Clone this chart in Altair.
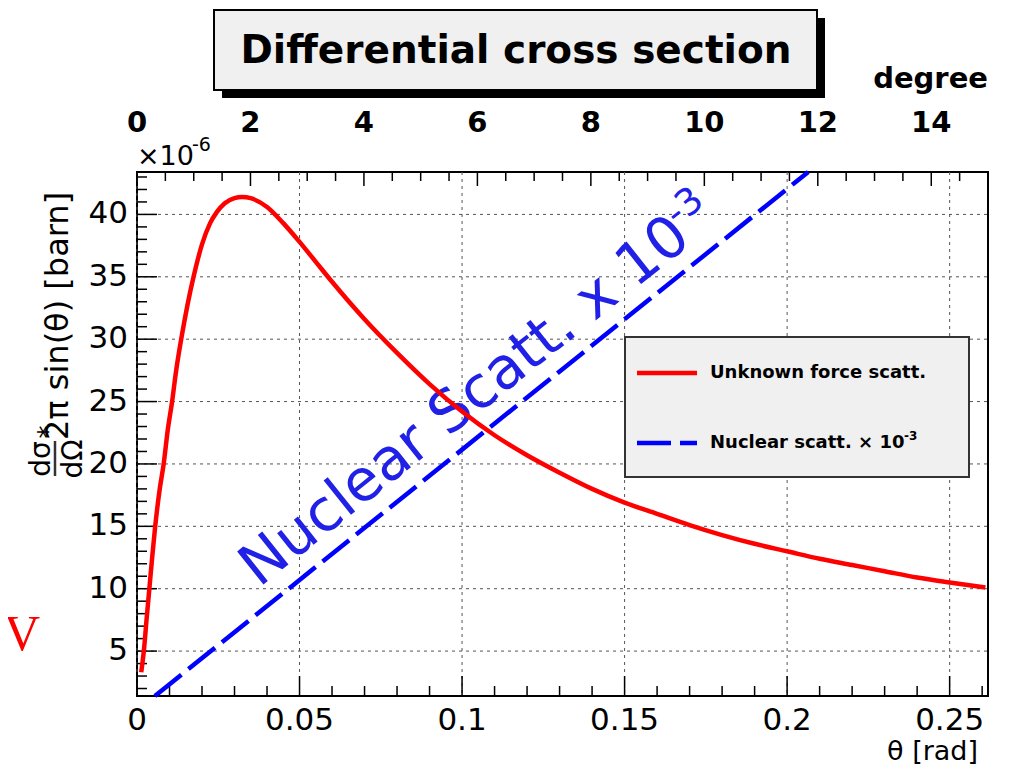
import math
import altair as alt
import pandas as pd

# ---- data ----
theta_rad = [0.0013, 0.0021, 0.0030, 0.0038, 0.0047, 0.0056, 0.0070, 0.0082, 0.0095, 0.0108,
             0.0120, 0.0136, 0.0155, 0.0174, 0.0200, 0.0225, 0.0246, 0.0270, 0.0300, 0.0323,
             0.0350, 0.0400, 0.0450, 0.0500, 0.0550, 0.0600, 0.0700, 0.0800, 0.0900, 0.1000,
             0.1100, 0.1200, 0.1300, 0.1400, 0.1500, 0.1600, 0.1700, 0.1800, 0.1900, 0.2000,
             0.2100, 0.2200, 0.2300, 0.2400, 0.2500, 0.2610]
unknown_force = [3.3, 5.0, 7.7, 10.0, 12.6, 15.0, 18.0, 20.0, 22.8, 25.0,
                 27.4, 30.0, 32.7, 35.0, 37.6, 39.3, 40.2, 40.9, 41.3, 41.4,
                 41.3, 40.6, 39.3, 37.8, 36.2, 34.6, 31.6, 28.9, 26.4, 24.2,
                 22.3, 20.7, 19.3, 18.0, 16.9, 16.0, 15.1, 14.3, 13.6, 13.0,
                 12.4, 11.9, 11.4, 10.9, 10.5, 10.1]
nuclear_theta = [0.0055, 0.2065]
nuclear_scaled = [1.4, 43.4]

x_major = [0, 0.05, 0.1, 0.15, 0.2, 0.25]
x_labels = ["0", "0.05", "0.1", "0.15", "0.2", "0.25"]
x_minor = [0.01, 0.02, 0.03, 0.04, 0.06, 0.07, 0.08, 0.09, 0.11, 0.12, 0.13, 0.14,
           0.16, 0.17, 0.18, 0.19, 0.21, 0.22, 0.23, 0.24, 0.26]
y_major = [5, 10, 15, 20, 25, 30, 35, 40]
y_labels = ["5", "10", "15", "20", "25", "30", "35", "40"]
y_minor = [2, 3, 4, 6, 7, 8, 9, 11, 12, 13, 14, 16, 17, 18, 19, 21, 22, 23, 24,
           26, 27, 28, 29, 31, 32, 33, 34, 36, 37, 38, 39, 41, 42, 43]
deg_major = [0, 2, 4, 6, 8, 10, 12, 14]
deg_minor = [0.5, 1, 1.5, 2.5, 3, 3.5, 4.5, 5, 5.5, 6.5, 7, 7.5, 8.5, 9, 9.5,
             10.5, 11, 11.5, 12.5, 13, 13.5, 14.5]

FONT = "DejaVu Sans"
W, H = 851, 524
X = alt.Scale(domain=[0, 0.2618], nice=False, zero=False)
Y = alt.Scale(domain=[1.4, 43.4], nice=False, zero=False)

curve = pd.DataFrame({"theta": theta_rad, "val": unknown_force})
nuc = pd.DataFrame({"theta": nuclear_theta, "val": nuclear_scaled})
one = pd.DataFrame({"k": [0]})
xmaj = pd.DataFrame({"v": x_major, "lab": x_labels})
xmin = pd.DataFrame({"v": x_minor})
ymaj = pd.DataFrame({"v": y_major, "lab": y_labels})
ymin = pd.DataFrame({"v": y_minor})
# degree axis positions expressed on the radian scale
degmaj = pd.DataFrame({"rad": [d * math.pi / 180 for d in deg_major],
                       "lab": [str(d) for d in deg_major]})
degmin = pd.DataFrame({"rad": [d * math.pi / 180 for d in deg_minor]})


def xrule(df, y1, y2, **kw):
    props = dict(color="black", strokeWidth=1.5)
    props.update(kw)
    return alt.Chart(df).mark_rule(**props).encode(
        x=alt.X("v:Q" if "v" in df else "rad:Q", scale=X, axis=None),
        y=alt.value(y1), y2=alt.value(y2))


def yrule(df, x1, x2, **kw):
    props = dict(color="black", strokeWidth=1.5)
    props.update(kw)
    return alt.Chart(df).mark_rule(**props).encode(
        y=alt.Y("v:Q", scale=Y, axis=None), x=alt.value(x1), x2=alt.value(x2))


def txt(s, x, y, size, **kw):
    props = dict(font=FONT, fontSize=size, color="black", align="left", baseline="alphabetic")
    props.update(kw)
    return alt.Chart(pd.DataFrame({"t": [s]})).mark_text(**props).encode(
        text="t:N", x=alt.value(x), y=alt.value(y))


def box(x1, x2, y1, y2, **kw):
    return alt.Chart(one).mark_rect(**kw).encode(
        x=alt.value(x1), x2=alt.value(x2), y=alt.value(y1), y2=alt.value(y2))


def hline(x1, x2, y, **kw):
    return alt.Chart(one).mark_rule(**kw).encode(
        x=alt.value(x1), x2=alt.value(x2), y=alt.value(y))


def vline(x, y1, y2, **kw):
    return alt.Chart(one).mark_rule(**kw).encode(
        x=alt.value(x), y=alt.value(y1), y2=alt.value(y2))


grid = dict(color="#555", strokeWidth=1, strokeDash=[3, 4])

x_tick_labels = alt.Chart(xmaj).mark_text(font=FONT, fontSize=31, color="black",
                                          align="center", baseline="alphabetic").encode(
    x=alt.X("v:Q", scale=X, axis=None), y=alt.value(H + 34), text="lab:N")
y_tick_labels = alt.Chart(ymaj).mark_text(font=FONT, fontSize=31, color="black",
                                          align="right", baseline="middle").encode(
    y=alt.Y("v:Q", scale=Y, axis=None), x=alt.value(-9), text="lab:N")
deg_labels = alt.Chart(degmaj).mark_text(font=FONT, fontSize=29, fontWeight="bold", color="black",
                                         align="center", baseline="alphabetic").encode(
    x=alt.X("rad:Q", scale=X, axis=None), y=alt.value(-40), text="lab:N")

red = alt.Chart(curve).mark_line(color="#ff0000", strokeWidth=4.5, interpolate="monotone").encode(
    x=alt.X("theta:Q", scale=X, axis=None),
    y=alt.Y("val:Q", scale=Y, axis=None),
)
blue = alt.Chart(nuc).mark_line(color="#0000ff", strokeWidth=4.5, strokeDash=[34, 9]).encode(
    x=alt.X("theta:Q", scale=X, axis=None),
    y=alt.Y("val:Q", scale=Y, axis=None),
)

big_blue = "#2020e6"
layers = [
    # grid
    xrule(xmaj, 0, H, **grid),
    yrule(ymaj, 0, W, **grid),
    # inward ticks
    xrule(xmaj, H, H - 20), xrule(xmin, H, H - 10),
    yrule(ymaj, 0, 20), yrule(ymin, 0, 10),
    xrule(degmaj, 0, 14), xrule(degmin, 0, 9),
    # tick labels
    x_tick_labels, y_tick_labels, deg_labels,
    # big annotation
    txt("Nuclear Scatt. x 10", 122, 416, 58, color=big_blue, angle=321.5),
    txt("-3", 540, 55, 37, color=big_blue, angle=321.5),
    blue, red,
    # legend
    box(488, 832, 165, 305, fill="#f0f0f0", stroke="#333", strokeWidth=2),
    hline(500, 560, 201, color="#ff0000", strokeWidth=4.5),
    hline(500, 560, 271, color="#0000ff", strokeWidth=4.5, strokeDash=[34, 9]),
    txt("Unknown force scatt.", 573, 201, 18, fontWeight="bold", baseline="middle"),
    txt("Nuclear scatt. \u00d7 10", 573, 271, 18, fontWeight="bold", baseline="middle"),
    txt("-3", 767, 264, 12, fontWeight="bold", baseline="middle"),
    # title box with shadow
    box(85, 688, -154, -74, fill="black"),
    box(77, 680, -162, -82, fill="#f0f0f0", stroke="black", strokeWidth=2),
    txt("Differential cross section", 379, -109, 39, fontWeight="bold", align="center"),
    # top axis title and multiplier
    txt("degree", 851, -84, 29, fontWeight="bold", align="right"),
    txt("\u00d710", 0, -7, 27),
    txt("-6", 55, -21, 19),
    # x axis title
    txt("\u03b8 [rad]", 841, 588, 27, align="right"),
    # y axis title
    txt("2\u03c0 sin(\u03b8) [barn]", -69, 268, 32, angle=270),
    txt("*", -80, 260, 26, angle=270, align="center"),
    txt("d\u03c3", -87, 287, 28, angle=270, align="center"),
    vline(-82, 269, 304, color="#333", strokeWidth=2.5),
    txt("d\u03a9", -55, 287, 28, angle=270, align="center"),
    # stray red glyph at far left
    txt("V", -115, 478, 50, font="Liberation Serif", color="#ff0000", align="center"),
]

chart = alt.layer(*layers).properties(
    width=W, height=H,
    autosize=alt.AutoSizeParams(type="none"),
    padding={"left": 129, "top": 164, "right": 16, "bottom": 72},
    background="white",
).configure_view(stroke="black", strokeWidth=2)

chart.save("out.html", embed_options={"renderer": "svg", "actions": False})
